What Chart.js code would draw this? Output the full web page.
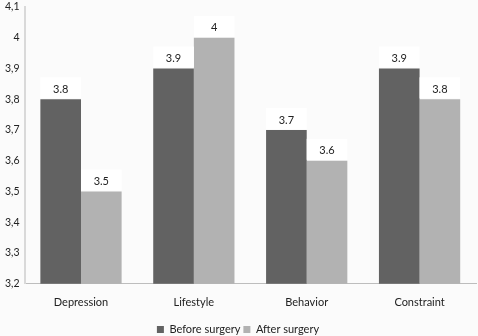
<!DOCTYPE html>
<html>
<head>
<meta charset="utf-8">
<script src="https://cdn.jsdelivr.net/npm/chart.js@4"></script>
<style>
  html, body { margin: 0; padding: 0; background: #fbfbfb; }
  #wrap { width: 478px; height: 336px; }
</style>
</head>
<body>
<div id="wrap"><canvas id="c"></canvas></div>
<script>
const categories = ['Depression', 'Lifestyle', 'Behavior', 'Constraint'];
const beforeSurgery = [3.8, 3.9, 3.7, 3.9];
const afterSurgery = [3.5, 4.0, 3.6, 3.8];
const yTicks = [3.2, 3.3, 3.4, 3.5, 3.6, 3.7, 3.8, 3.9, 4.0, 4.1];

const FONT = 'Lato';

// Value labels above each bar, on a white box.
const valueLabels = {
  id: 'valueLabels',
  afterDatasetsDraw(chart) {
    const ctx = chart.ctx;
    ctx.save();
    ctx.font = '11px ' + FONT + ', sans-serif';
    ctx.textAlign = 'center';
    ctx.textBaseline = 'middle';
    chart.data.datasets.forEach((ds, i) => {
      chart.getDatasetMeta(i).data.forEach((bar, j) => {
        const w = bar.width;
        ctx.fillStyle = '#ffffff';
        ctx.fillRect(bar.x - w / 2, bar.y - 22, w, 21);
        ctx.fillStyle = '#222';
        ctx.fillText(String(ds.data[j]), bar.x, bar.y - 10);
      });
    });
    ctx.restore();
  }
};

new Chart(document.getElementById('c').getContext('2d'), {
  type: 'bar',
  data: {
    labels: categories,
    datasets: [{
      label: 'Before surgery',
      data: beforeSurgery,
      backgroundColor: '#626262',
      categoryPercentage: 0.72,
      barPercentage: 1
    }, {
      label: 'After surgery',
      data: afterSurgery,
      backgroundColor: '#b2b2b2',
      categoryPercentage: 0.72,
      barPercentage: 1
    }]
  },
  options: {
    responsive: true,
    maintainAspectRatio: false,
    animation: false,
    layout: { padding: { top: 0, right: 2, left: 0, bottom: -9 } },
    scales: {
      x: {
        grid: { display: false, drawTicks: false },
        border: { color: '#bdbdbd' },
        ticks: { color: '#222', font: { family: FONT, size: 11 }, padding: 12 }
      },
      y: {
        min: 3.2,
        max: 4.1,
        afterBuildTicks: axis => { axis.ticks = yTicks.map(v => ({ value: v })); },
        grid: { display: false, drawTicks: false },
        border: { color: '#d9d9d9', width: 2 },
        ticks: {
          color: '#222',
          font: { family: FONT, size: 10.5, lineHeight: 0.4 },
          padding: 5,
          callback: v => String(Math.round(v * 10) / 10).replace('.', ',')
        }
      }
    },
    plugins: {
      legend: {
        position: 'bottom',
        labels: {
          boxWidth: 7,
          boxHeight: 7,
          color: '#222',
          font: { family: FONT, size: 11 },
          padding: 3
        }
      },
      tooltip: { enabled: false }
    }
  },
  plugins: [valueLabels]
});
</script>
</body>
</html>
